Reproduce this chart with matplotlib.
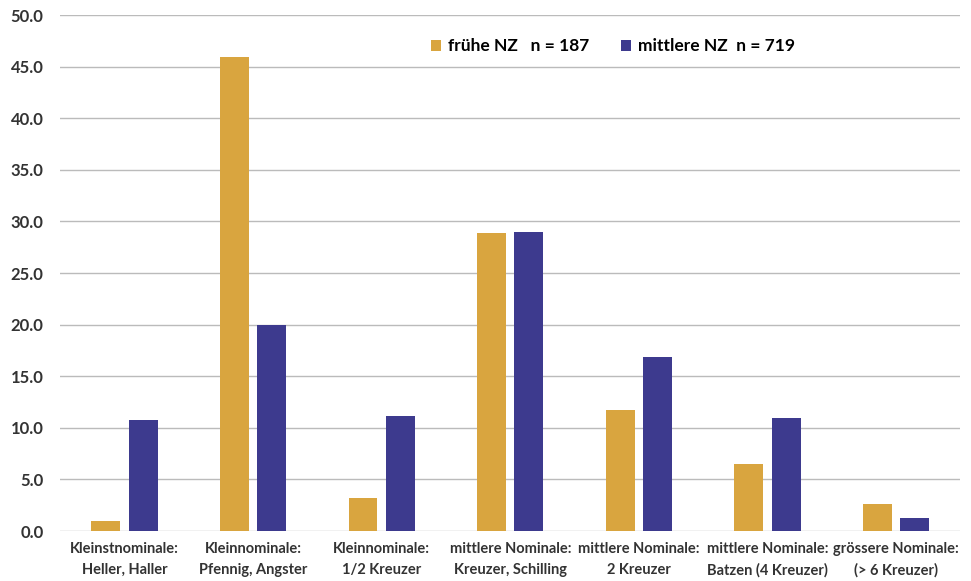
import numpy as np
import matplotlib.pyplot as plt

categories = [
    "Kleinstnominale:\nHeller, Haller",
    "Kleinnominale:\nPfennig, Angster",
    "Kleinnominale:\n1/2 Kreuzer",
    "mittlere Nominale:\nKreuzer, Schilling",
    "mittlere Nominale:\n2 Kreuzer",
    "mittlere Nominale:\nBatzen (4 Kreuzer)",
    "grössere Nominale:\n(> 6 Kreuzer)",
]
fruehe = [1.0, 45.9, 3.2, 28.9, 11.7, 6.5, 2.6]
mittlere = [10.8, 20.0, 11.1, 29.0, 16.9, 11.0, 1.3]
labels = ["frühe NZ   n = 187", "mittlere NZ  n = 719"]

plt.rcParams["font.family"] = ["Lato", "DejaVu Sans"]
plt.rcParams["font.weight"] = "bold"

fig = plt.figure(figsize=(9.71, 5.81), dpi=100)
ax = fig.add_axes([0.062, 0.086, 0.927, 0.888])

x = np.arange(len(categories))
w = 0.225
ax.bar(x - 0.145, fruehe, w, color="#D9A53F", label=labels[0], zorder=3)
ax.bar(x + 0.145, mittlere, w, color="#3D3A8E", label=labels[1], zorder=3)

ax.set_xlim(-0.5, len(categories) - 0.5)
ax.set_ylim(0, 50)
ax.set_yticks(np.arange(0, 50.1, 5))
ax.set_yticklabels([f"{v:.1f}" for v in np.arange(0, 50.1, 5)], fontsize=12, color="#333333")
ax.set_xticks(x)
ax.set_xticklabels(categories, fontsize=10.5, color="#333333", linespacing=1.6)
ax.tick_params(length=0)
ax.tick_params(axis="y", pad=12)
ax.tick_params(axis="x", pad=8)
ax.grid(axis="y", color="#BBBBBB", linewidth=1, zorder=0)
for s in ax.spines.values():
    s.set_visible(False)

ax.legend(loc="upper center", bbox_to_anchor=(0.614, 0.985), ncol=2, frameon=False,
          fontsize=12.5, handlelength=0.6, handleheight=0.6, handletextpad=0.4,
          columnspacing=1.8)

fig.savefig("out.png", dpi=100)
